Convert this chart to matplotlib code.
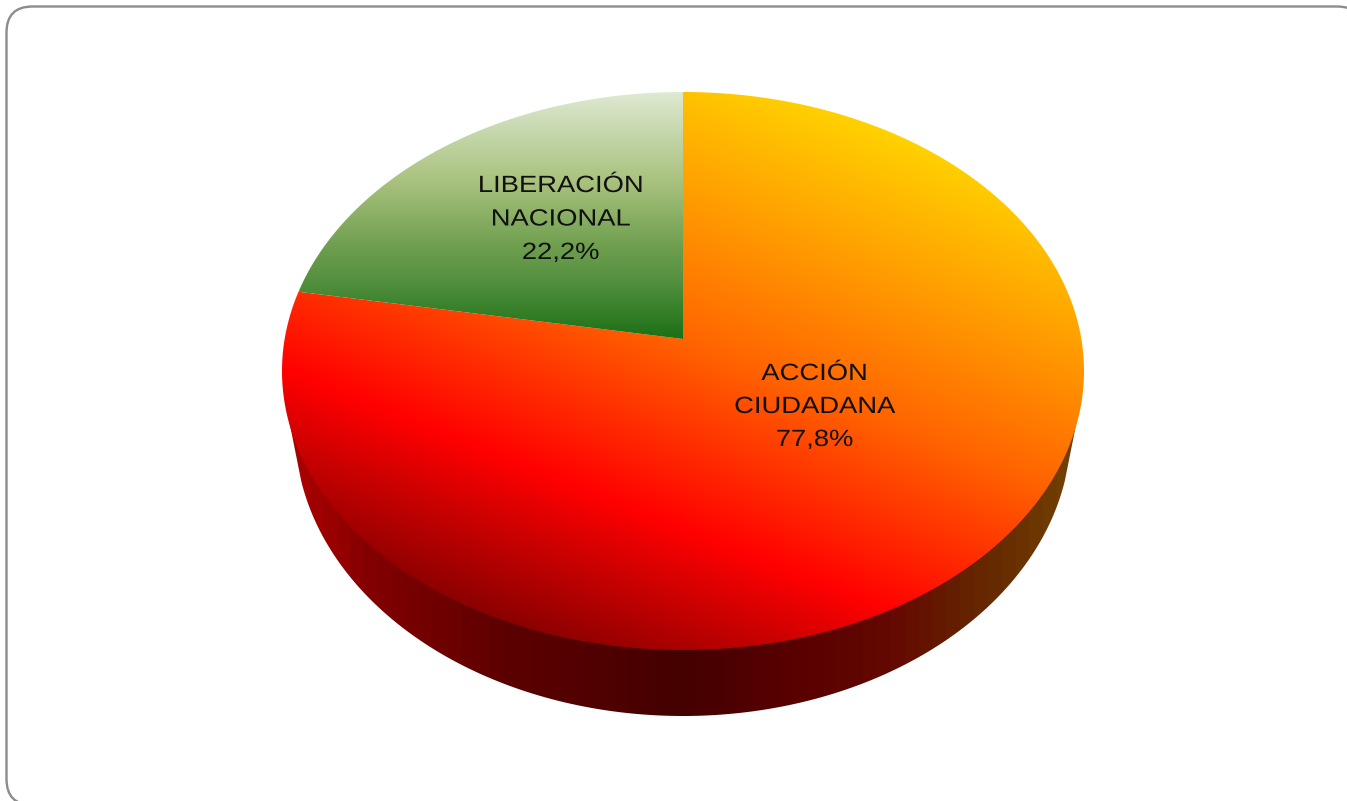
import numpy as np
import matplotlib
matplotlib.use("Agg")
import matplotlib.pyplot as plt
import matplotlib.patheffects as pe
from matplotlib.colors import LinearSegmentedColormap
from matplotlib.patches import Polygon, FancyBboxPatch
from matplotlib.transforms import Affine2D

# ---- data -------------------------------------------------------------
categories = ["ACCIÓN\nCIUDADANA", "LIBERACIÓN\nNACIONAL"]
values = [77.8, 22.2]

# ---- geometry / style -------------------------------------------------
W, H = 1347, 801
APEX = (683.0, 339.0)          # projected pie centre
TOP_Y, BOT_Y = 92.0, 650.0     # rim extremes
RX = 401.0
DEPTH_BOTTOM = 716.0
LABEL_X = [814.5, 560.5]
LABEL_BASELINES = [[380, 413, 446], [192, 225.5, 259]]

plt.rcParams["font.family"] = ["Liberation Sans", "DejaVu Sans"]
fig = plt.figure(figsize=(W / 100, H / 100), dpi=100, facecolor="white")
ax = fig.add_axes([0, 0, 1, 1])
ax.set_xlim(0, W)
ax.set_ylim(H, 0)
ax.axis("off")

# perspective projection of the unit circle (the rim is an ellipse, the centre sits above its middle)
up, down = APEX[1] - TOP_Y, BOT_Y - APEX[1]
k = (down - up) / (down + up)
a = up * (1 + k)
c = RX * np.sqrt(1 - k ** 2)


def project(theta):
    u, v = np.sin(theta), np.cos(theta)
    d = 1 + k * v
    return APEX[0] + c * u / d, APEX[1] - a * v / d


xx, yy = np.meshgrid(np.arange(W) + 0.5, np.arange(H) + 0.5)
EXTENT = (0, W, H, 0)


def gradient_image(field, cmap, vmin, vmax, clip):
    ax.add_patch(clip)
    im = ax.imshow(field, cmap=cmap, vmin=vmin, vmax=vmax, extent=EXTENT,
                   interpolation="bilinear", aspect="auto", zorder=clip.get_zorder())
    im.set_clip_path(clip)
    return im


# frame
ax.add_patch(FancyBboxPatch((6.5 + 26, 6.5 + 26), 1363 - 6.5 - 52, 805 - 6.5 - 52,
                            boxstyle="round,pad=26,rounding_size=26",
                            fc="white", ec="#8c8c8c", lw=1.7, zorder=0))

# side wall
side_cmap = LinearSegmentedColormap.from_list(
    "side",
    [(0.00, "#a80000"), (0.10, "#800000"), (0.27, "#5c0000"), (0.50, "#450000"),
     (0.66, "#5a0000"), (0.78, "#640a00"), (0.88, "#642400"), (1.00, "#6f3e00")], N=56)
cy_bot = 430.0
ry_bot = DEPTH_BOTTOM - cy_bot
rx_bot = 388.0
ang = np.linspace(np.pi, 0, 300)
arc_x = APEX[0] + rx_bot * np.cos(ang)
arc_y = cy_bot + ry_bot * np.sin(ang)
keep = arc_y >= 480
outline = np.column_stack([np.r_[286.0, arc_x[keep], 1080.0], np.r_[405.0, arc_y[keep], 405.0]])
side_clip = Polygon(outline, closed=True, fc="none", ec="none", zorder=2, transform=ax.transData)
gradient_image((xx - (APEX[0] - rx_bot)) / (2 * rx_bot), side_cmap, 0, 1, side_clip)

# top wedges
fractions = np.array(values) / np.sum(values)
edges = np.r_[0, np.cumsum(fractions)] * 2 * np.pi


def wedge_poly(t0, t1):
    th = np.linspace(t0, t1, 400)
    px, py = project(th)
    return np.column_stack([np.r_[APEX[0], px], np.r_[APEX[1], py]])


t_field = (xx - 683) * 0.37 - (yy - 371) * 0.93
# stops: t from -300 (dark) through -148 (pure red) and orange to +300 (yellow)
red_cmap = LinearSegmentedColormap.from_list(
    "red", [(0.0, "#8a0000"), (152 / 600, "#ff0000"), (330 / 600, "#ff6400"),
            (450 / 600, "#ff9600"), (1.0, "#ffd200")], N=512)
green_cmap = LinearSegmentedColormap.from_list(
    "green", [(0.0, "#dfe9d4"), (0.09, "#d0dfbd"), (0.36, "#a9c27e"), (0.63, "#6e9e4e"),
              (0.76, "#559140"), (1.0, "#1c7015")], N=256)

fields = [(t_field, red_cmap, -300, 300),
          ((yy - TOP_Y) / (APEX[1] - TOP_Y), green_cmap, 0, 1)]
for i, (f, cm, lo, hi) in enumerate(fields):
    clip = Polygon(wedge_poly(edges[i], edges[i + 1]), closed=True, fc="none", ec="none",
                   zorder=3, transform=ax.transData)
    gradient_image(f, cm, lo, hi, clip)


# horizontally stretched labels
class StretchX(pe.AbstractPathEffect):
    def __init__(self, cx_data, sx):
        super().__init__()
        self.cx_data, self.sx = cx_data, sx

    def draw_path(self, renderer, gc, tpath, affine, rgbFace=None):
        cx = ax.transData.transform((self.cx_data, 0))[0]
        tr = affine + Affine2D().translate(-cx, 0).scale(self.sx, 1).translate(cx, 0)
        renderer.draw_path(gc, tpath, tr, rgbFace)


FONT_PT = 23.5 * 0.72
for name, val, x, bases in zip(categories, values, LABEL_X, LABEL_BASELINES):
    lines = name.split("\n") + [f"{val:.1f}".replace(".", ",") + "%"]
    for line, by in zip(lines, bases):
        ax.text(x, by, line, ha="center", va="baseline", fontsize=FONT_PT, color="#111111",
                zorder=5, path_effects=[StretchX(x, 1.165)])

ax.set_xlim(0, W)
ax.set_ylim(H, 0)
fig.savefig("out.png", dpi=100, facecolor="white")
